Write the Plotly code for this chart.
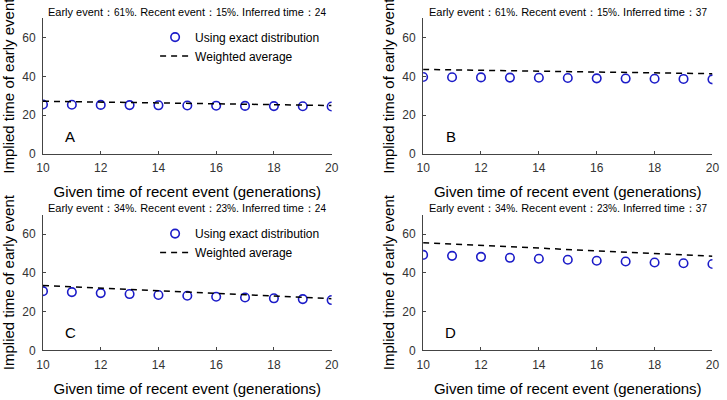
import plotly.graph_objects as go

x_given = [10, 11, 12, 13, 14, 15, 16, 17, 18, 19, 20]

A_exact = [25.5, 25.4, 25.3, 25.2, 25.1, 25.0, 24.9, 24.8, 24.7, 24.6, 24.5]
A_avg = [27.2, 27.0, 26.8, 26.5, 26.3, 26.1, 25.9, 25.7, 25.5, 25.2, 25.0]
B_exact = [39.7, 39.6, 39.5, 39.4, 39.3, 39.2, 39.0, 38.9, 38.8, 38.7, 38.5]
B_avg = [43.6, 43.4, 43.2, 43.0, 42.7, 42.5, 42.3, 42.1, 41.8, 41.6, 41.4]
C_exact = [30.6, 30.1, 29.6, 29.1, 28.6, 28.2, 27.7, 27.3, 26.9, 26.5, 26.0]
C_avg = [33.5, 32.8, 32.1, 31.5, 30.8, 30.1, 29.4, 28.7, 28.1, 27.4, 26.7]
D_exact = [49.3, 48.8, 48.3, 47.8, 47.3, 46.8, 46.3, 45.9, 45.4, 45.0, 44.6]
D_avg = [55.6, 54.9, 54.2, 53.5, 52.8, 52.1, 51.4, 50.7, 50.0, 49.3, 48.6]

titles = [
    ("Early event", "61%", "Recent event", "15%", "24"),
    ("Early event", "61%", "Recent event", "15%", "37"),
    ("Early event", "34%", "Recent event", "23%", "24"),
    ("Early event", "34%", "Recent event", "23%", "37"),
]
panel_letters = ["A", "B", "C", "D"]
exact_series = [A_exact, B_exact, C_exact, D_exact]
avg_series = [A_avg, B_avg, C_avg, D_avg]

W, H = 727, 400
xdoms = [(36.7 / W, 331 / W), (424.3 / W, 719.3 / W)]
ydoms = [(1 - 156.7 / H, 1 - 18.6 / H), (1 - 356.7 / H, 1 - 218.6 / H)]

fig = go.Figure()
layout = dict(
    width=W, height=H, margin=dict(l=0, r=0, t=0, b=0),
    paper_bgcolor="white", plot_bgcolor="white",
    font=dict(family="Liberation Sans, Arial, sans-serif", color="black"),
    showlegend=True,
)
annotations = []
for i in range(4):
    row, col = divmod(i, 2)
    ax = "" if i == 0 else str(i + 1)
    xa, ya = "x" + ax, "y" + ax
    leg = "legend" if i == 0 else ("legend2" if i == 2 else None)
    fig.add_trace(go.Scatter(
        x=x_given, y=exact_series[i], xaxis=xa, yaxis=ya, mode="markers",
        name="Using exact distribution",
        marker=dict(symbol="circle-open", size=8.5, color="#1c1cc8", line=dict(width=1.6)),
        showlegend=leg is not None, legend=leg if leg else "legend",
    ))
    fig.add_trace(go.Scatter(
        x=x_given, y=avg_series[i], xaxis=xa, yaxis=ya, mode="lines",
        name="Weighted average",
        line=dict(color="black", width=1.5, dash="6px,5px"),
        showlegend=leg is not None, legend=leg if leg else "legend",
    ))
    axis_common = dict(
        showline=True, linecolor="#444", linewidth=1, showgrid=False, zeroline=False,
        ticks="inside", ticklen=3, tickcolor="#444",
        tickfont=dict(size=12, color="#333"),
    )
    layout["xaxis" + ax] = dict(
        domain=list(xdoms[col]), range=[10, 20], tickvals=[10, 12, 14, 16, 18, 20],
        anchor=ya, ticklabelstandoff=3,
        title=dict(text="Given time of recent event (generations)",
                   font=dict(size=15), standoff=12),
        **axis_common,
    )
    layout["yaxis" + ax] = dict(
        domain=list(ydoms[row]), range=[0, 70], tickvals=[0, 20, 40, 60],
        anchor=xa, ticklabelstandoff=4,
        title=dict(text="Implied time of early event",
                   font=dict(size=15), standoff=4),
        **axis_common,
    )
    t = titles[i]
    annotations.append(dict(
        xref="paper", yref="paper",
        x=(xdoms[col][0] + xdoms[col][1]) / 2, y=ydoms[row][1] + 6.5 / H,
        xanchor="center", yanchor="middle", showarrow=False,
        text=(f"{t[0]}：<span style='font-size:10px'>{t[1]}</span>. {t[2]}："
              f"<span style='font-size:10px'>{t[3]}</span>. Inferred time："
              f"<span style='font-size:10px'>{t[4]}</span>"),
        font=dict(size=11),
    ))
    annotations.append(dict(
        xref=xa, yref=ya, x=10.95, y=9.2, text=panel_letters[i], showarrow=False,
        font=dict(size=15), xanchor="center", yanchor="middle",
    ))

legend_style = dict(
    xanchor="left", yanchor="top", bgcolor="rgba(0,0,0,0)",
    font=dict(size=12), tracegroupgap=0, itemwidth=30,
)
layout["legend"] = dict(x=151 / W, y=1 - 23 / H, **legend_style)
layout["legend2"] = dict(x=151 / W, y=1 - 223 / H, **legend_style)
layout["annotations"] = annotations
fig.update_layout(**layout)
fig.write_html("out.html", config={"displayModeBar": False},
               post_script="document.body.style.margin='0';")
